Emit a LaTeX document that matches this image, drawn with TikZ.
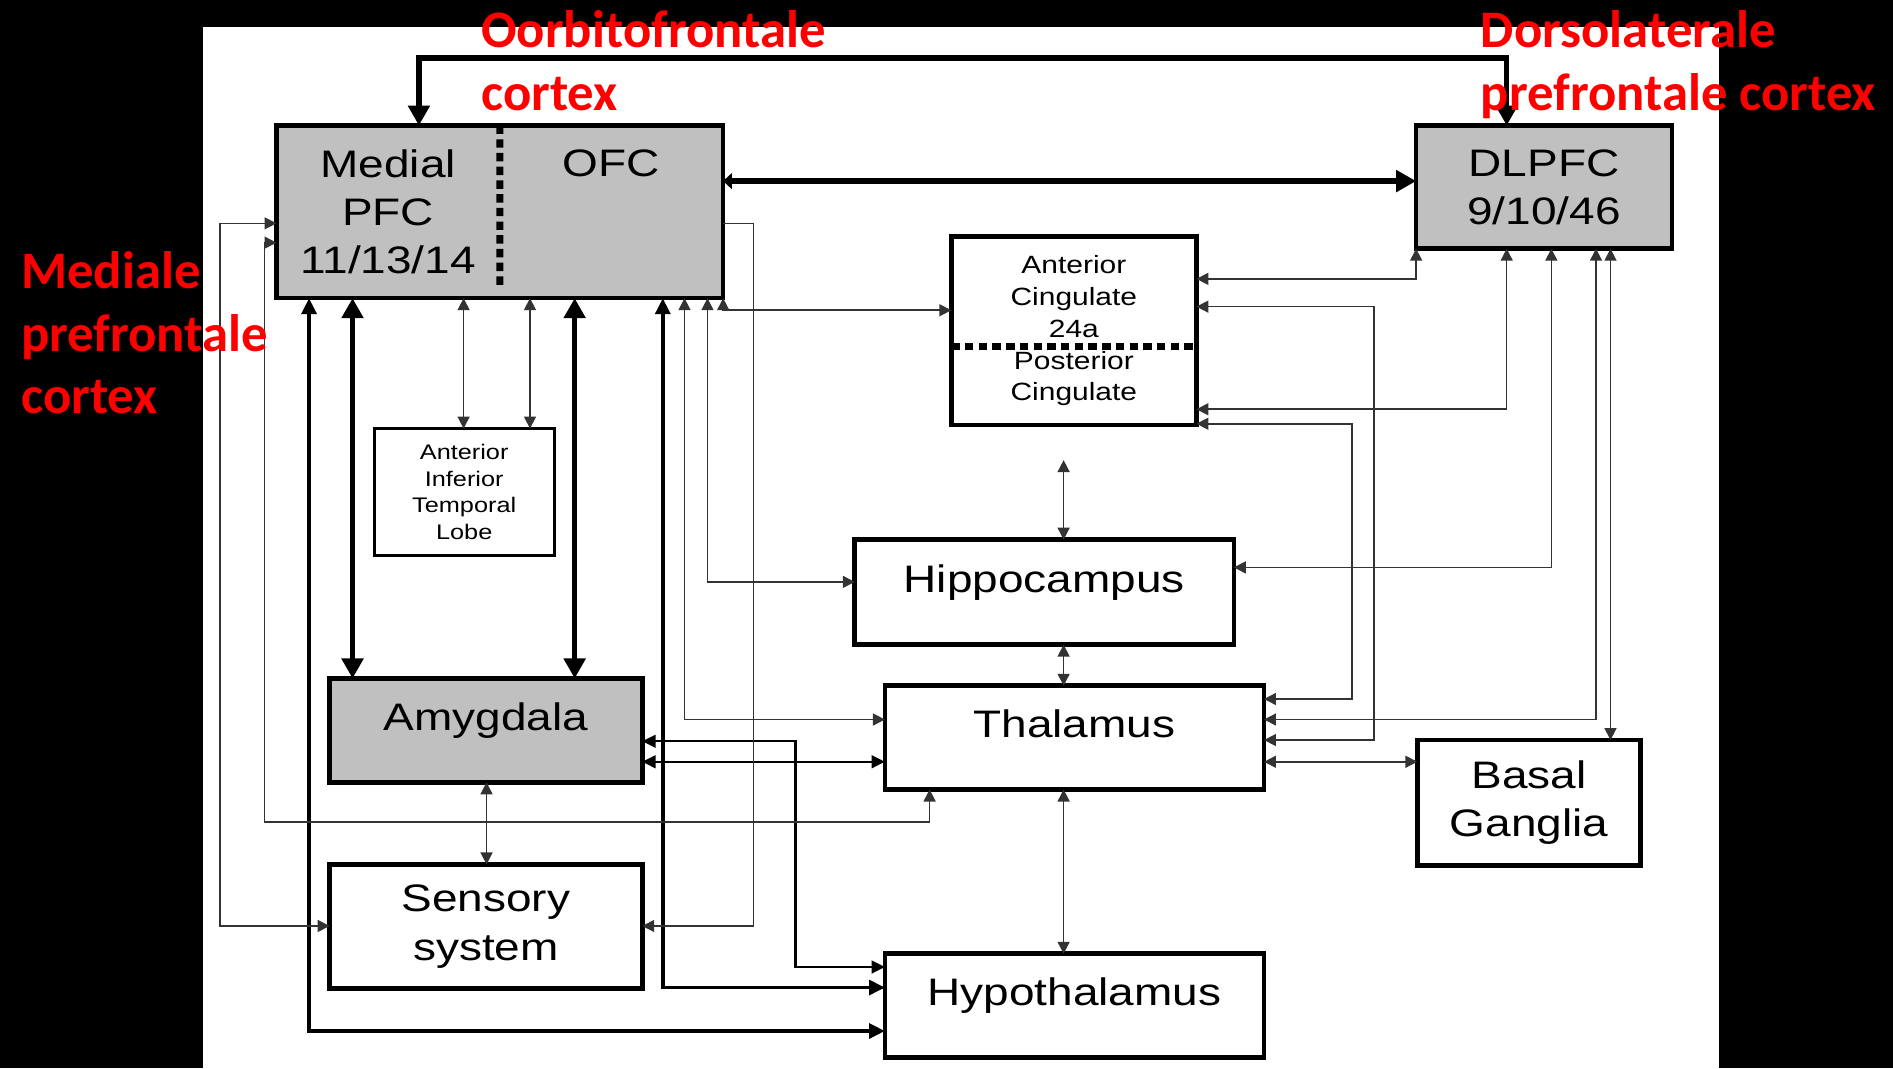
\documentclass[tikz,border=0pt]{standalone}
\usepackage{fontspec}
\usetikzlibrary{arrows.meta,calc}
\newfontfamily\boxfont[FakeStretch=1.2]{Liberation Sans}
\newfontfamily\notefont{Carlito}
\definecolor{boxgray}{HTML}{C0C0C0}
\definecolor{notered}{HTML}{FF0000}
\newcommand{\pxunit}{0.12073mm}
\tikzset{
  region/.style 2 args={minimum width=#1*\pxunit, minimum height=#2*\pxunit,
    inner sep=0pt, outer sep=0pt, align=center, font=\boxfont\fontsize{10.9}{13.7}\selectfont},
  framed/.style={draw, line width=1.3pt},
  shaded/.style={fill=boxgray},
  oneline/.style={text height=8pt, text depth=8pt},
  smalltext/.style={font=\boxfont\fontsize{7.1}{9.07}\selectfont},
  tinytext/.style={font=\boxfont\fontsize{6}{7.56}\selectfont},
  note/.style={anchor=north west, inner sep=0pt, align=left, text=notered,
    font=\notefont\bfseries\fontsize{15}{17.7}\selectfont},
  divider/.style={line width=2pt, dash pattern=on 2.4pt off 1.5pt},
  heavy/.style={line width=1.5pt, >={Triangle[length=5.7pt,width=6pt]}},
  thk/.style={line width=1.05pt, >={Triangle[length=4.5pt,width=4.2pt]}},
  med/.style={line width=0.7pt, >={Triangle[length=3.8pt,width=3.6pt]}},
  thn/.style={line width=0.45pt, draw=black!80, >={Triangle[length=3.4pt,width=3.4pt]}},
}
\begin{document}
\begin{tikzpicture}[x=0.12073mm, y=-0.12073mm]
\useasboundingbox (0,0) rectangle (1568,885);
\fill[black] (0,0) rectangle (1568,885);
\fill[white] (168,22) rectangle (1424,885);

\node[region={185}{143}, shaded] (mpfc) at (321.5,175.5) {Medial\\PFC\\11/13/14};
\node[region={185}{143}, shaded, text height=7.8pt, text depth=27.7pt] (ofc) at (506.5,175.5) {OFC};
\draw[line width=1.3pt] (mpfc.north west) rectangle (ofc.south east);
\draw[divider] (mpfc.north east) -- ($(mpfc.north east)!0.93!(mpfc.south east)$);
\node[region={212}{102}, framed, shaded] (dlpfc) at (1279,155) {DLPFC\\9/10/46};
\node[region={203}{156}, framed, smalltext, fill=white] (cing) at (889.5,274) {Anterior\\Cingulate\\24a\\Posterior\\Cingulate};
\draw[divider] ($(cing.north west)!0.585!(cing.south west)$) -- ($(cing.north east)!0.585!(cing.south east)$);
\node[region={149}{105}, framed, line width=0.9pt, tinytext] (atl) at (384.5,407.5) {Anterior\\Inferior\\Temporal\\Lobe};
\node[region={314}{87}, framed, oneline] (hippo) at (865,490.5) {Hippocampus};
\node[region={259}{86}, framed, shaded, oneline] (amyg) at (402.5,605) {Amygdala};
\node[region={314}{86}, framed, oneline] (thal) at (890,611) {Thalamus};
\node[region={185}{104}, framed] (basal) at (1266.5,665) {Basal\\Ganglia};
\node[region={259}{103}, framed] (sens) at (402.5,767.5) {Sensory\\system};
\node[region={314}{86}, framed, oneline] (hypo) at (890,833) {Hypothalamus};

\draw[heavy,<->] (dlpfc.north -| 1248,0) |- (347,48) -- (mpfc.north -| 347,0);
\draw[heavy, arrows={Triangle[length=2.5pt,width=4.5pt]-Triangle[length=5.7pt,width=6pt]}] (ofc.east |- 0,150) -- (dlpfc.west |- 0,150);
\draw[heavy,<->] (mpfc.south -| 292,0) -- (amyg.north -| 292,0);
\draw[heavy,<->] (ofc.south -| 476,0) -- (amyg.north -| 476,0);
\draw[thk,<->] (mpfc.south -| 256,0) |- (hypo.west |- 0,854);
\draw[thk,<->] (ofc.south -| 549,0) |- (hypo.west |- 0,818);
\draw[med,<->] (amyg.east |- 0,614) -| (659,801) -- (hypo.west |- 0,801);
\draw[med,<->] (amyg.east |- 0,631) -- (thal.west |- 0,631);

\draw[thn,<->] (mpfc.south -| 384,0) -- (atl.north -| 384,0);
\draw[thn,<->] (ofc.south -| 439,0) -- (atl.north -| 439,0);
\draw[thn,<->] (amyg.south -| 403,0) -- (sens.north -| 403,0);
\draw[thn,<->] (mpfc.west |- 0,185) -| (182,767) -- (sens.west |- 0,767);
\draw[thn,<->] (mpfc.west |- 0,201) -| (219,681) -| (thal.south -| 770,0);
\draw[thn,->] (ofc.east |- 0,185) -| (624,767) -- (sens.east |- 0,767);
\draw[thn,<->] (ofc.south -| 567,0) |- (thal.west |- 0,596);
\draw[thn,<->] (ofc.south -| 586,0) |- (hippo.west |- 0,482);
\draw[thn,<->] (ofc.south east) |- (cing.west |- 0,257);
\draw[thn,<->, shorten <=10pt] (cing.south -| 881,0) -- (hippo.north -| 881,0);
\draw[thn,<->] (hippo.south -| 881,0) -- (thal.north -| 881,0);
\draw[thn,<->] (thal.south -| 881,0) -- (hypo.north -| 881,0);
\draw[thn,<->] (thal.east |- 0,631) -- (basal.west |- 0,631);
\draw[thn,<->] (dlpfc.south west) |- (cing.east |- 0,231);
\draw[thn,<->] (thal.east |- 0,613) -| (1138,254) -- (cing.east |- 0,254);
\draw[thn,<->] (dlpfc.south -| 1248,0) |- (cing.east |- 0,339);
\draw[thn,<->] (thal.east |- 0,579) -| (1120,351) -- (cing.east |- 0,351);
\draw[thn,<->] (dlpfc.south -| 1285,0) |- (hippo.east |- 0,470);
\draw[thn,<->] (dlpfc.south -| 1322,0) |- (thal.east |- 0,596);
\draw[thn,<->] (dlpfc.south -| 1334,0) -- (basal.north -| 1334,0);

\node[note] (orbnote) at (398,8.5) {Oorbitofrontale\\cortex};
\node[note] (dlnote) at (1226,8.5) {Dorsolaterale\\prefrontale cortex};
\node[note] (mednote) at (17,208) {Mediale\\prefrontale\\cortex};
\end{tikzpicture}
\end{document}
